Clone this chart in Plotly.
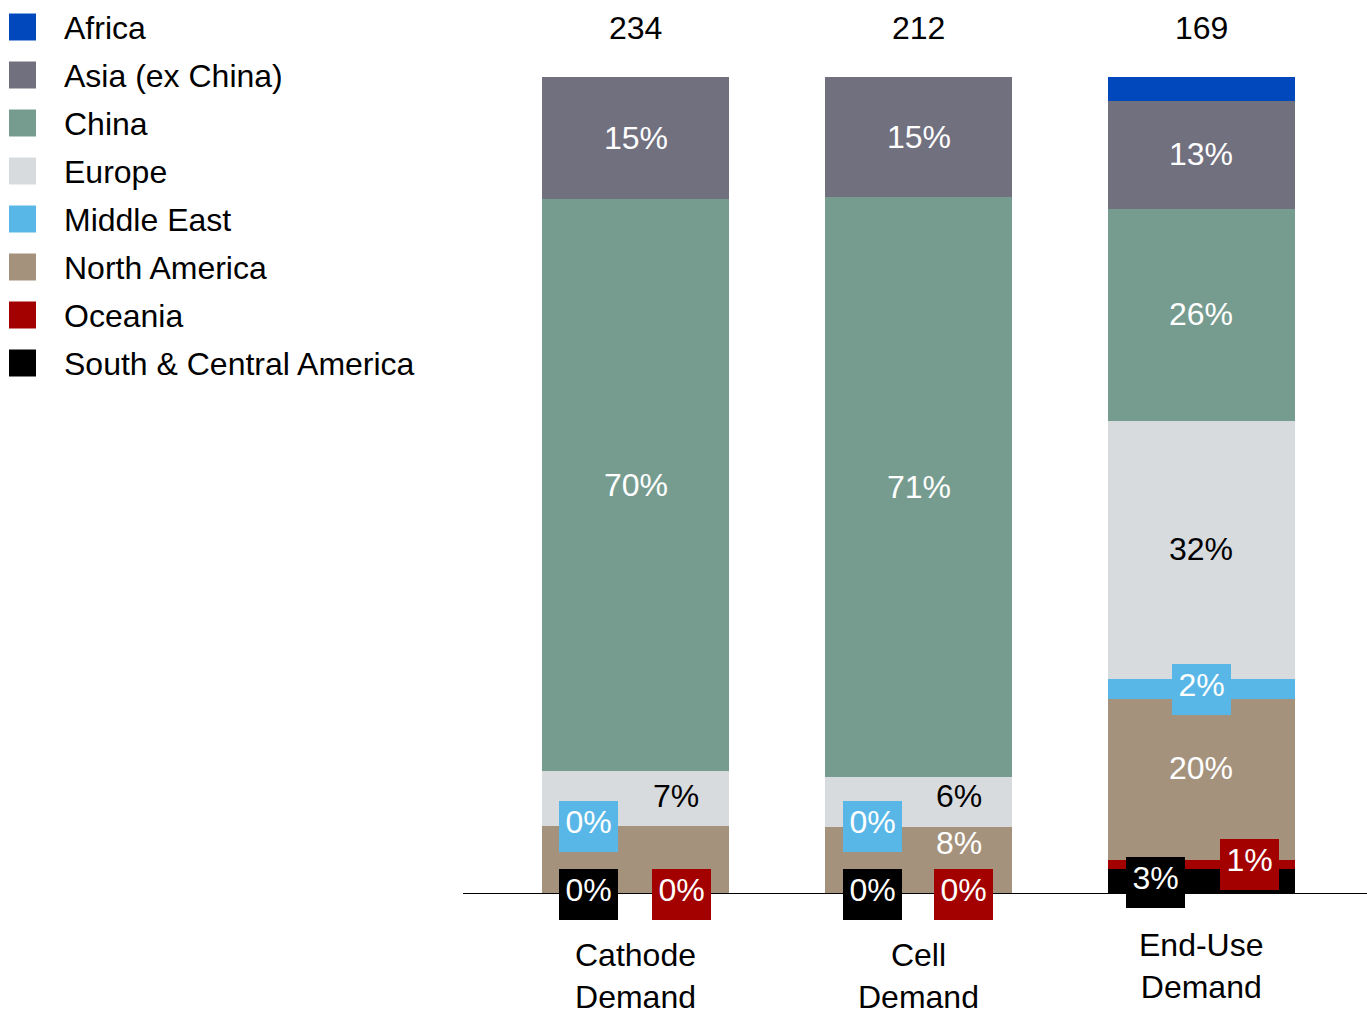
import plotly.graph_objects as go

# ---- data ----
categories = ["Cathode<br>Demand", "Cell<br>Demand", "End-Use<br>Demand"]
totals = [234, 212, 169]

# legend order (top to bottom); stacking is reversed (bottom first)
series_names = ["Africa", "Asia (ex China)", "China", "Europe", "Middle East",
                "North America", "Oceania", "South & Central America"]

africa = [0.0, 0.0, 3.0]
asia_ex_china = [15.0, 14.7, 13.2]
china = [70.1, 71.1, 25.9]
europe = [6.7, 6.1, 31.7]
middle_east = [0.0, 0.0, 2.4]
north_america = [8.2, 8.1, 19.7]
oceania = [0.0, 0.0, 1.2]
south_central_america = [0.0, 0.0, 2.9]

values = {
    "Africa": africa,
    "Asia (ex China)": asia_ex_china,
    "China": china,
    "Europe": europe,
    "Middle East": middle_east,
    "North America": north_america,
    "Oceania": oceania,
    "South & Central America": south_central_america,
}

# ---- styles ----
colors = {
    "Africa": "#0048BC",
    "Asia (ex China)": "#71707F",
    "China": "#769C90",
    "Europe": "#D8DBDE",
    "Middle East": "#58B7E7",
    "North America": "#A4927D",
    "Oceania": "#A30000",
    "South & Central America": "#000000",
}

FONT = "Liberation Sans, Arial, Helvetica, sans-serif"
FS = 32
W, H = 1367, 1012
ML, MR, MT, MB = 463, 0, 77, 119
PW, PH = W - ML - MR, H - MT - MB

# label placement: (series, category index) -> (style, xshift px, yshift px)
label_spec = {
    ("Asia (ex China)", 0): ("white", 0, 0),
    ("Asia (ex China)", 1): ("white", 0, 0),
    ("Asia (ex China)", 2): ("white", 0, 1),
    ("China", 0): ("white", 0, 0),
    ("China", 1): ("white", 0, 0),
    ("China", 2): ("white", 0, 1),
    ("Europe", 0): ("black", 40, 3),
    ("Europe", 1): ("black", 40, 6),
    ("Europe", 2): ("black", 0, 1),
    ("North America", 1): ("white", 40, 17),
    ("North America", 2): ("white", 0, 11),
    ("Middle East", 0): ("box", -47, 0),
    ("Middle East", 1): ("box", -46, 0),
    ("Middle East", 2): ("box", 0, 0),
    ("South & Central America", 0): ("box", -47, -1.5),
    ("South & Central America", 1): ("box", -46, -1.5),
    ("South & Central America", 2): ("box", -45.5, -1),
    ("Oceania", 0): ("box", 45.5, -1.5),
    ("Oceania", 1): ("box", 45, -1.5),
    ("Oceania", 2): ("box", 48, 0),
}

xs = list(range(len(categories)))
stack_order = list(reversed(series_names))

fig = go.Figure()
for name in stack_order:
    fig.add_trace(go.Bar(
        x=xs, y=values[name], name=name, width=0.66,
        marker=dict(color=colors[name], line=dict(width=0)),
        showlegend=False, hoverinfo="x+y+name",
    ))

annotations = []
# segment labels
cum = [0.0] * len(categories)
for name in stack_order:
    for i, v in enumerate(values[name]):
        spec = label_spec.get((name, i))
        if spec:
            style, dx, dy = spec
            ann = dict(x=xs[i], y=cum[i] + v / 2, xref="x", yref="y",
                       text=f"{round(v)}%", showarrow=False,
                       xanchor="center", yanchor="middle",
                       xshift=dx, yshift=dy,
                       font=dict(family=FONT, size=FS,
                                 color="#000000" if style == "black" else "#FFFFFF"))
            if style == "box":
                ann.update(bgcolor=colors[name], width=53, height=45,
                           borderpad=3, borderwidth=0, valign="top")
            annotations.append(ann)
    cum = [c + v for c, v in zip(cum, values[name])]

# totals on top
for i, t in enumerate(totals):
    annotations.append(dict(x=xs[i], y=100, xref="x", yref="y", text=str(t),
                            showarrow=False, yanchor="middle", yshift=49,
                            font=dict(family=FONT, size=FS, color="#000000")))

# category labels
cat_shift = [-83, -83, -73]
for i, c in enumerate(categories):
    annotations.append(dict(x=xs[i], y=0, xref="x", yref="y", text=c,
                            showarrow=False, yanchor="middle", yshift=cat_shift[i],
                            font=dict(family=FONT, size=FS, color="#000000")))

# custom legend
def px_x(px):
    return (px - ML) / PW

def px_y(py):
    return (H - MB - py) / PH

shapes = []
for k, name in enumerate(series_names):
    cy = 27 + 48 * k
    shapes.append(dict(type="rect", xref="paper", yref="paper",
                       x0=px_x(9), x1=px_x(36), y0=px_y(cy + 13.5), y1=px_y(cy - 13.5),
                       fillcolor=colors[name], line=dict(width=0)))
    annotations.append(dict(x=px_x(62), y=px_y(cy + 1), xref="paper", yref="paper",
                            text=name, showarrow=False, xanchor="left", yanchor="middle",
                            font=dict(family=FONT, size=FS, color="#000000")))

fig.update_layout(
    barmode="stack",
    width=W, height=H,
    margin=dict(l=ML, r=MR, t=MT, b=MB, pad=0),
    paper_bgcolor="#FFFFFF", plot_bgcolor="#FFFFFF",
    font=dict(family=FONT, size=FS, color="#000000"),
    xaxis=dict(range=[-0.61, 2.585], showticklabels=False, ticks="",
               showgrid=False, zeroline=False, showline=True,
               linecolor="#000000", linewidth=1, fixedrange=True),
    yaxis=dict(range=[0, 100], visible=False, fixedrange=True),
    annotations=annotations,
    shapes=shapes,
    showlegend=False,
)

fig.write_html("out.html")
